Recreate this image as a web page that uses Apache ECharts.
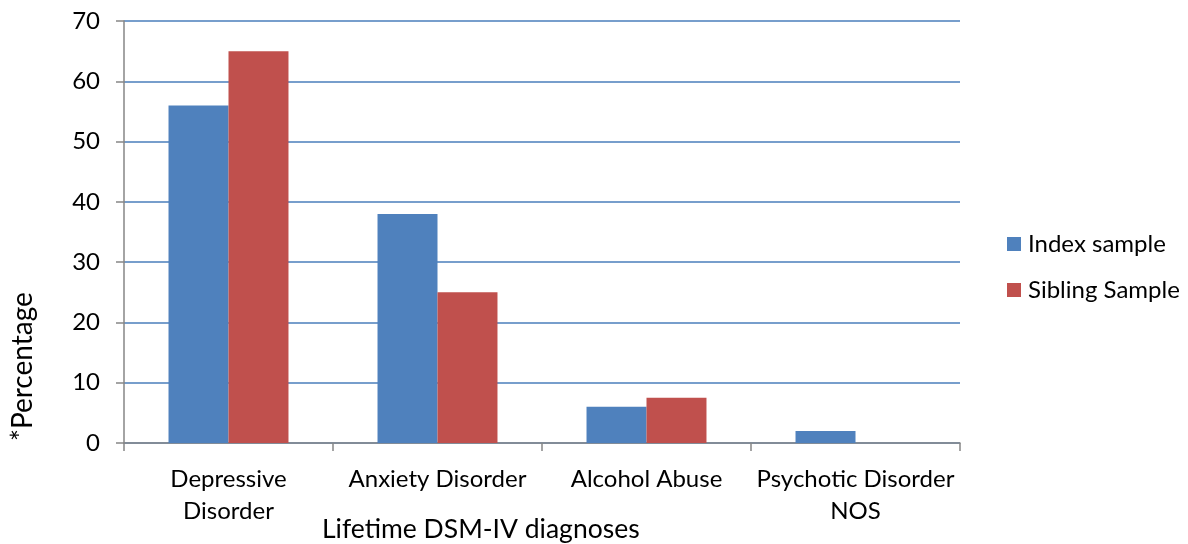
<!DOCTYPE html>
<html>
<head>
<meta charset="utf-8">
<script src="https://cdn.jsdelivr.net/npm/echarts@6/dist/echarts.min.js"></script>
<style>
  html, body { margin: 0; padding: 0; background: #fff; }
  #chart { width: 1188px; height: 544px; }
</style>
</head>
<body>
<div id="chart"></div>
<script>
// Lifetime DSM-IV diagnoses, percentage per sample
const categories = ['Depressive\nDisorder', 'Anxiety Disorder', 'Alcohol Abuse', 'Psychotic Disorder\nNOS'];
const indexSample = [56, 38, 6, 2];
const siblingSample = [65, 25, 7.5, null];
const seriesNames = ['Index sample', 'Sibling Sample'];
const yTicks = { min: 0, max: 70, interval: 10 };

const FONT = 'Lato';
const chart = echarts.init(document.getElementById('chart'));

chart.setOption({
  animation: false,
  textStyle: { fontFamily: FONT, color: '#000' },
  grid: { left: 124, right: 228, top: 21, bottom: 101 },
  legend: {
    orient: 'vertical',
    left: 1002,
    top: 227,
    itemWidth: 14,
    itemHeight: 14,
    itemGap: 22,
    icon: 'rect',
    textStyle: { fontFamily: FONT, fontSize: 24, color: '#000', padding: [0, 0, 0, 2] },
    data: seriesNames
  },
  xAxis: {
    type: 'category',
    data: categories,
    axisLine: { lineStyle: { color: '#868686', width: 1.5 } },
    axisTick: { show: true, length: 8, alignWithLabel: false, lineStyle: { color: '#868686', width: 1.5 } },
    axisLabel: { fontFamily: FONT, fontSize: 24, color: '#000', margin: 20, lineHeight: 32, interval: 0 }
  },
  yAxis: {
    type: 'value',
    min: yTicks.min,
    max: yTicks.max,
    interval: yTicks.interval,
    axisLine: { show: true, lineStyle: { color: '#868686', width: 1.5 } },
    axisTick: { show: true, length: 8, lineStyle: { color: '#868686', width: 1.5 } },
    axisLabel: { fontFamily: FONT, fontSize: 24, color: '#000', margin: 24 },
    splitLine: { lineStyle: { color: '#4a7ebb', width: 1.5 } }
  },
  graphic: [
    {
      type: 'text',
      left: 322,
      top: 516,
      style: { text: 'Lifetime DSM-IV diagnoses', fontFamily: FONT, fontSize: 26.5, fill: '#000' }
    },
    {
      type: 'text',
      x: 9,
      y: 441,
      rotation: Math.PI / 2,
      style: { text: '*Percentage', fontFamily: FONT, fontSize: 28, fill: '#000', textAlign: 'left', textVerticalAlign: 'top' }
    }
  ],
  series: [
    {
      name: seriesNames[0],
      type: 'bar',
      data: indexSample,
      barGap: '0%',
      barCategoryGap: '42.6%',
      itemStyle: { color: '#4f81bd' }
    },
    {
      name: seriesNames[1],
      type: 'bar',
      data: siblingSample,
      barGap: '0%',
      barCategoryGap: '42.6%',
      itemStyle: { color: '#c0504d' }
    }
  ]
});
</script>
</body>
</html>
